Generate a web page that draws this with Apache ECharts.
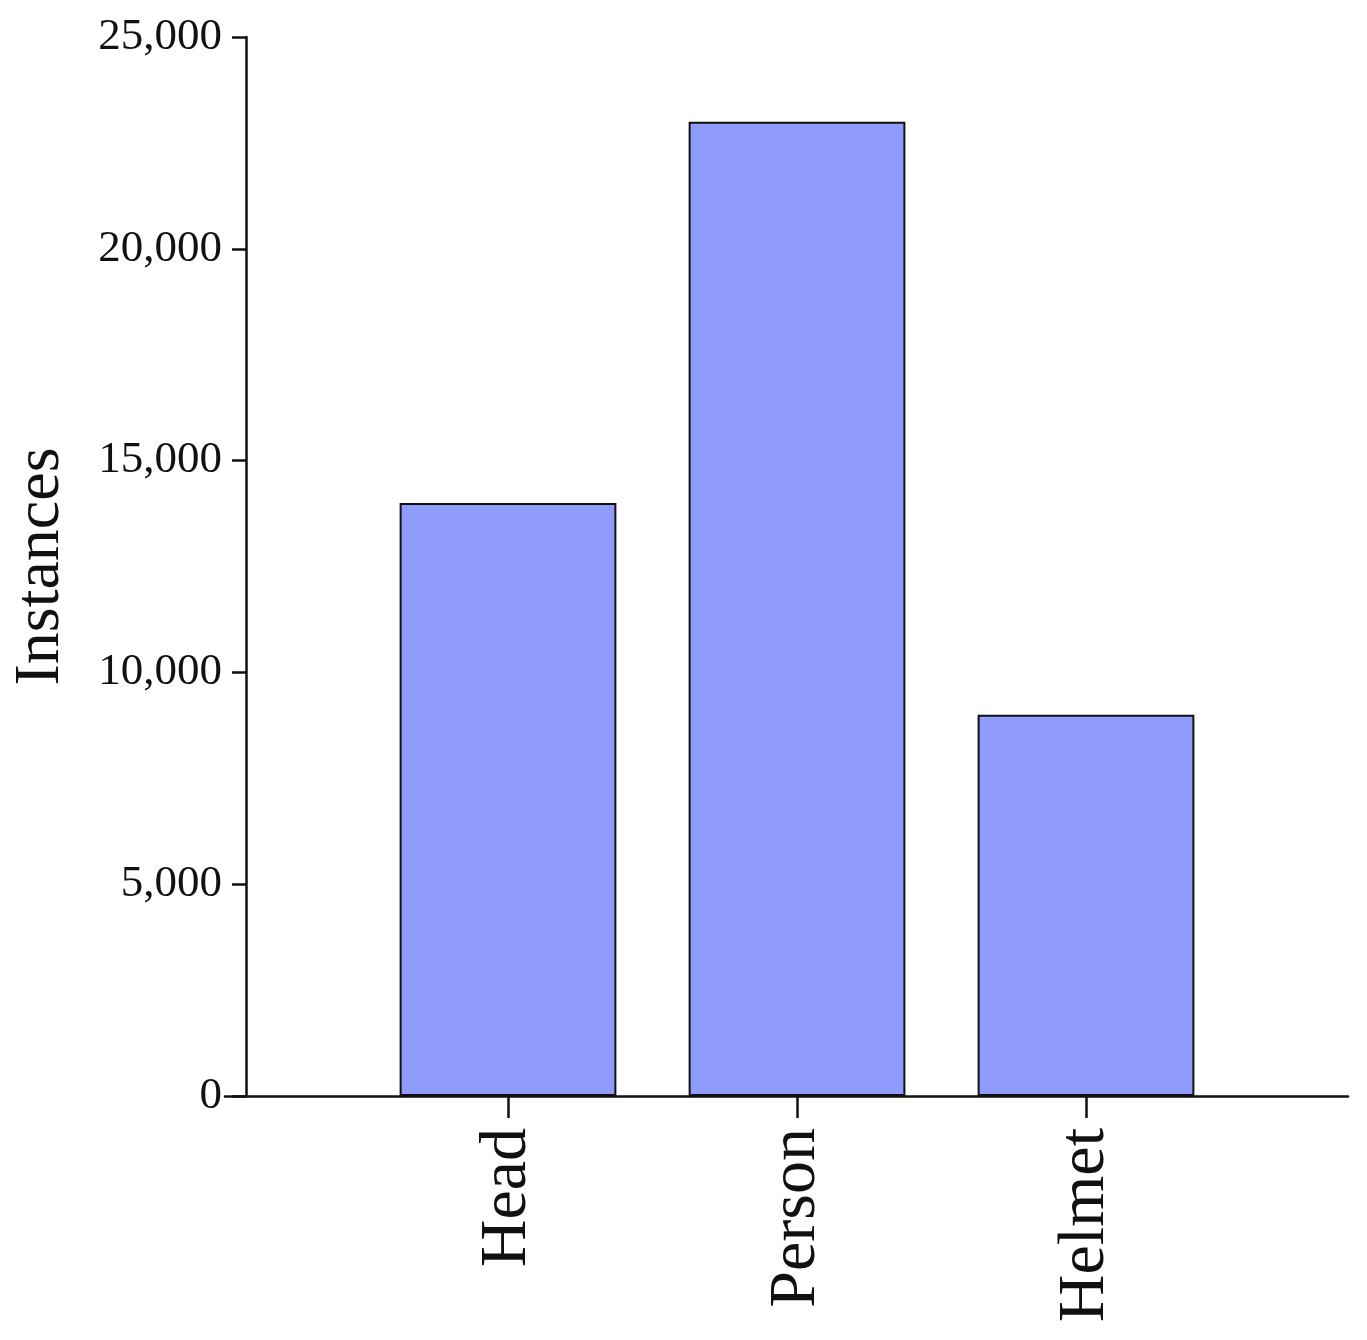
<!DOCTYPE html>
<html>
<head>
<meta charset="utf-8">
<script src="https://cdn.jsdelivr.net/npm/echarts@6/dist/echarts.min.js"></script>
<style>html,body{margin:0;padding:0;background:#fff}#c{width:1367px;height:1340px}</style>
</head>
<body>
<div id="c"></div>
<script>
const categories = ['Head', 'Person', 'Helmet'];
const instances = [14000, 23000, 9000];
const yTicks = [0, 5000, 10000, 15000, 20000, 25000];
const yTitle = 'Instances';

const FONT = 'Liberation Serif';
const chart = echarts.init(document.getElementById('c'), null, {renderer: 'canvas'});
chart.setOption({
  animation: false,
  backgroundColor: '#ffffff',
  grid: [
    {left: 363.5, right: 136.5, top: 37, bottom: 244, containLabel: false, outerBoundsMode: 'none'},
    {left: 225, right: 19, top: 37, bottom: 244, containLabel: false, outerBoundsMode: 'none'}
  ],
  xAxis: [
    {
      type: 'category', gridIndex: 0, data: categories,
      axisLine: {show: false},
      axisTick: {show: true, alignWithLabel: true, length: 22, lineStyle: {color: '#111', width: 2.5}},
      axisLabel: {rotate: 90, margin: 32, color: '#111', fontFamily: FONT, fontSize: 66}
    },
    {
      type: 'value', gridIndex: 1, min: 0, max: 1,
      axisLine: {show: true, lineStyle: {color: '#111', width: 2.5}},
      axisTick: {show: false}, axisLabel: {show: false}, splitLine: {show: false}
    }
  ],
  yAxis: [
    {
      type: 'value', gridIndex: 0, min: yTicks[0], max: yTicks[yTicks.length - 1], interval: yTicks[1] - yTicks[0],
      offset: 117.5,
      name: yTitle, nameLocation: 'middle', nameGap: 173, nameRotate: 90,
      nameTextStyle: {color: '#111', fontFamily: FONT, fontSize: 64},
      axisLine: {show: true, lineStyle: {color: '#111', width: 2.5}},
      axisTick: {show: true, length: 14, lineStyle: {color: '#111', width: 2.5}},
      axisLabel: {margin: 24, color: '#111', fontFamily: FONT, fontSize: 45,
        formatter: v => v.toLocaleString('en-US')},
      splitLine: {show: false}
    },
    {type: 'value', gridIndex: 1, show: false}
  ],
  series: [{
    type: 'bar', xAxisIndex: 0, yAxisIndex: 0, data: instances,
    barCategoryGap: '25%',
    itemStyle: {color: '#8f9cfe', borderColor: '#111', borderWidth: 2}
  }]
});
</script>
</body>
</html>
